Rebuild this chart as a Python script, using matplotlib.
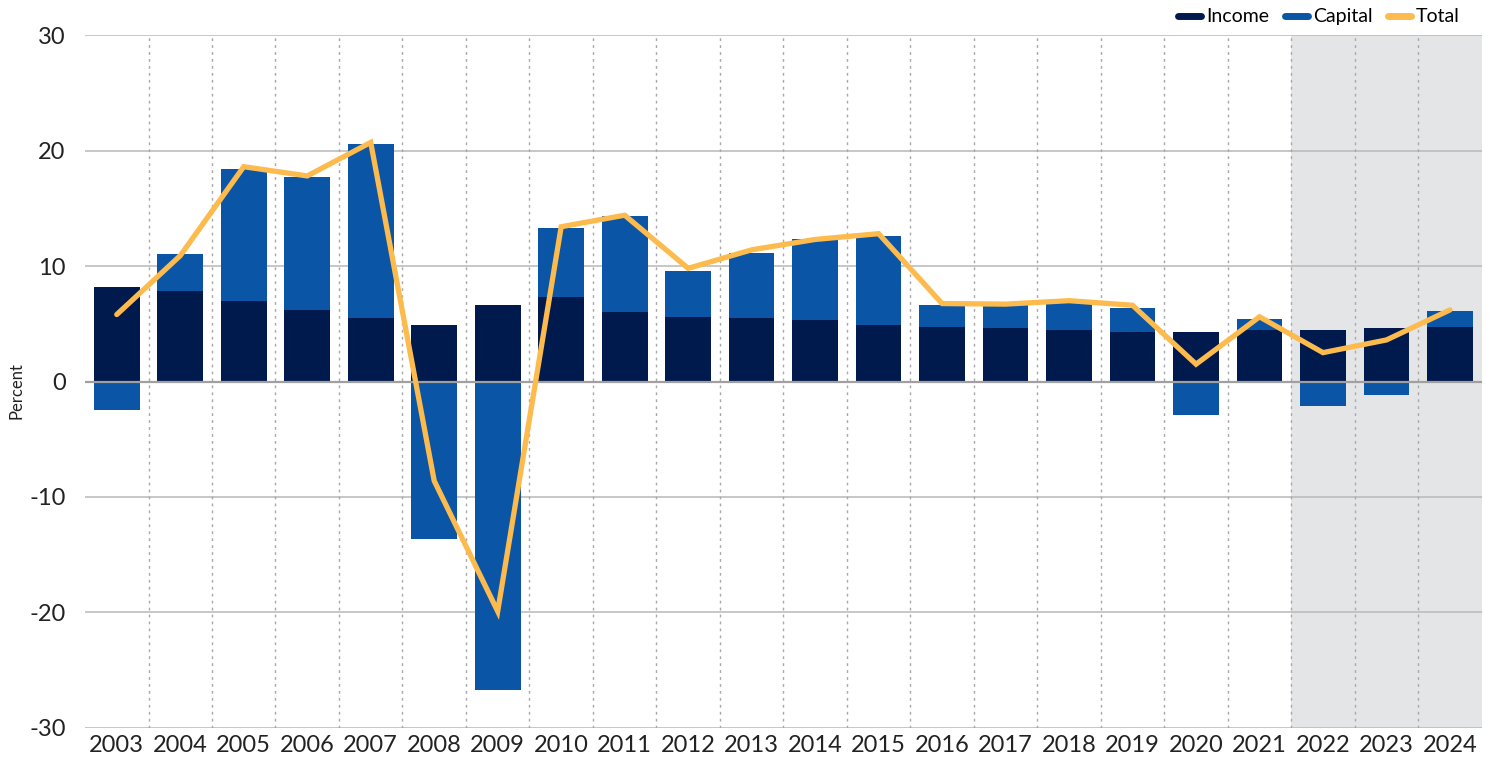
import numpy as np
import matplotlib.pyplot as plt

plt.rcParams['font.family'] = ['Lato', 'DejaVu Sans']
plt.rcParams['axes.unicode_minus'] = False

# Data (percent)
years = ['2003', '2004', '2005', '2006', '2007', '2008', '2009', '2010', '2011', '2012', '2013',
         '2014', '2015', '2016', '2017', '2018', '2019', '2020', '2021', '2022', '2023', '2024']
income = [8.2, 7.8, 7.0, 6.2, 5.5, 4.9, 6.6, 7.3, 6.0, 5.6, 5.5,
          5.3, 4.9, 4.7, 4.6, 4.5, 4.3, 4.3, 4.5, 4.5, 4.6, 4.7]
capital = [-2.5, 3.2, 11.4, 11.5, 15.1, -13.6, -26.7, 6.0, 8.3, 4.0, 5.6,
           7.0, 7.7, 1.9, 2.0, 2.3, 2.1, -2.9, 0.9, -2.1, -1.2, 1.4]
total = [5.8, 10.9, 18.6, 17.8, 20.7, -8.6, -19.9, 13.4, 14.4, 9.8, 11.4,
         12.3, 12.8, 6.75, 6.7, 7.0, 6.6, 1.5, 5.6, 2.5, 3.6, 6.2]

c_income = '#001A4D'
c_capital = '#0A55A5'
c_total = '#FDBA4D'

fig = plt.figure(figsize=(14.97, 7.65), dpi=100)
ax = fig.add_axes([0.0568, 0.0484, 0.933, 0.9058])

x = np.arange(len(years))
income = np.array(income)
capital = np.array(capital)

# shaded region (last three years)
ax.axvspan(18.5, 21.5, color='#E4E5E7', zorder=0, lw=0)

# grid
for v in [-30, -20, -10, 10, 20, 30]:
    ax.axhline(v, color='#BDBDBD', lw=1.2, zorder=1)
for b in np.arange(0.5, len(years) - 0.5, 1):
    ax.axvline(b, color='#A8A8A8', lw=1.0, ls=(0, (2, 3)), zorder=1)

w = 0.72
ax.bar(x, income, width=w, color=c_income, zorder=2)
cap_bottom = np.where(capital >= 0, income, 0)
ax.bar(x, capital, width=w, bottom=cap_bottom, color=c_capital, zorder=2)
ax.axhline(0, color='#A0A0A0', lw=1.6, zorder=3)
ax.plot(x, total, color=c_total, lw=3.8, solid_capstyle='round', solid_joinstyle='miter', zorder=4)

ax.set_xlim(-0.5, len(years) - 0.5)
ax.set_ylim(-30, 30)
ax.set_yticks([-30, -20, -10, 0, 10, 20, 30])
ax.set_xticks(x)
ax.set_xticklabels(years)
ax.tick_params(axis='both', length=0, labelsize=17, colors='#222222')
ax.tick_params(axis='y', pad=14)
ax.tick_params(axis='x', pad=5)
for s in ax.spines.values():
    s.set_visible(False)

fig.text(0.011, 0.49, 'Percent', rotation=90, va='center', ha='center', fontsize=12, color='#222222')

handles = [plt.Line2D([0], [0], color=c, lw=5, solid_capstyle='round') for c in [c_income, c_capital, c_total]]
fig.legend(handles, ['Income', 'Capital', 'Total'], loc='upper right', bbox_to_anchor=(0.987, 1.012),
           ncol=3, frameon=False, fontsize=14, handlelength=1.2, handletextpad=0.25, columnspacing=0.8)

fig.savefig('out.png', dpi=100)
